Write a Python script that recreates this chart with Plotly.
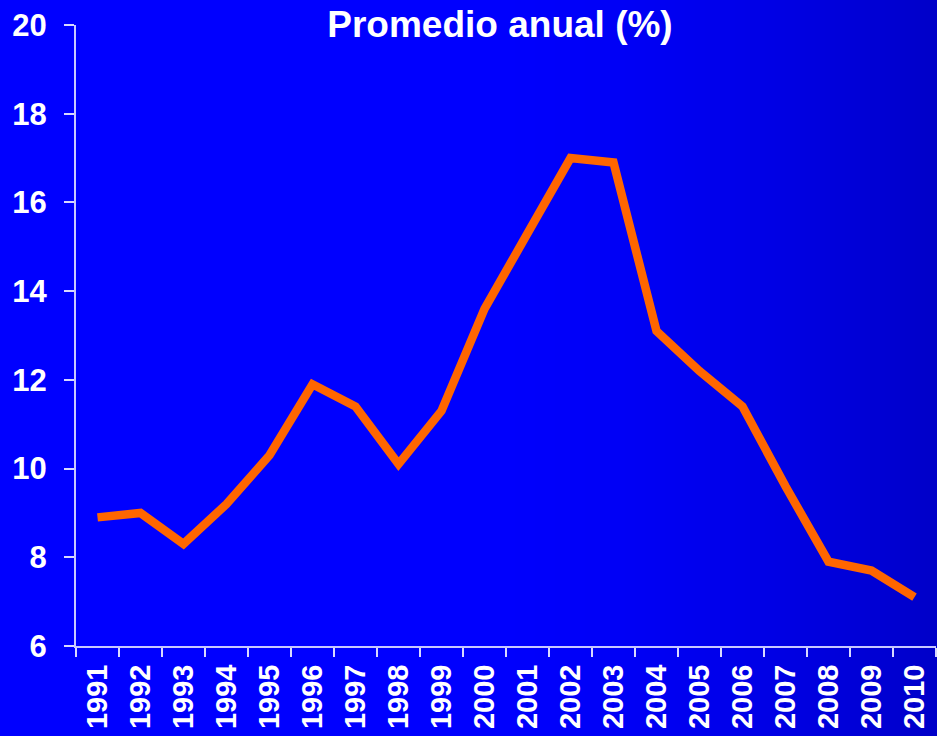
import plotly.graph_objects as go

years = ["1991", "1992", "1993", "1994", "1995", "1996", "1997", "1998", "1999", "2000",
         "2001", "2002", "2003", "2004", "2005", "2006", "2007", "2008", "2009", "2010"]
values = [8.9, 9.0, 8.3, 9.2, 10.3, 11.9, 11.4, 10.1, 11.3, 13.6,
          15.3, 17.0, 16.9, 13.1, 12.2, 11.4, 9.6, 7.9, 7.7, 7.1]
y_ticks = [6, 8, 10, 12, 14, 16, 18, 20]

W, H = 937, 736
ML, MR, MT, MB = 76, 1, 25, 90
PW = W - ML - MR
PH = H - MT - MB

FONT = "Liberation Sans, Arial, sans-serif"

# background gradient as thin vertical strips (paper coordinates)
shapes = []
step = 5
for px in range(0, W, step):
    t = max(0.0, (px + step / 2 - 400) / (W - 400))
    b = int(round(255 - 55 * t * t))
    shapes.append(dict(
        type="rect", xref="paper", yref="paper", layer="below",
        x0=(px - ML) / PW, x1=(px + step + 1 - ML) / PW,
        y0=-MB / PH - 0.01, y1=1 + MT / PH + 0.01,
        fillcolor=f"rgb(0,0,{b})", line=dict(width=0),
    ))

fig = go.Figure()
fig.add_trace(go.Scatter(
    x=years, y=values, mode="lines",
    line=dict(color="#FF6600", width=8.5),
    hoverinfo="x+y", showlegend=False,
))

fig.update_layout(
    width=W, height=H,
    margin=dict(l=ML, r=MR, t=MT, b=MB, autoexpand=False),
    paper_bgcolor="#0000FF",
    plot_bgcolor="rgba(0,0,0,0)",
    shapes=shapes,
    title=dict(
        text="<b>Promedio anual (%)</b>",
        font=dict(family=FONT, size=37, color="white"),
        x=500 / W, xanchor="center", xref="container",
        y=1 - 24 / H, yanchor="middle", yref="container",
    ),
    xaxis=dict(
        type="category", tickson="boundaries", range=[-0.5, len(years) - 0.5],
        showgrid=False, zeroline=False,
        showline=True, linecolor="#C8C8FF", linewidth=2,
        ticks="outside", ticklen=9, tickcolor="#D8D8FF", tickwidth=2,
        tickangle=-90, ticklabelstandoff=5,
        tickfont=dict(family=FONT, size=29, color="white", weight="bold"),
        automargin=False,
    ),
    yaxis=dict(
        range=[6, 20], tickvals=y_ticks, ticktext=[str(v) for v in y_ticks],
        showgrid=False, zeroline=False,
        showline=True, linecolor="#C8C8FF", linewidth=2,
        ticks="outside", ticklen=10, tickcolor="#D8D8FF", tickwidth=2,
        ticklabelstandoff=11,
        tickfont=dict(family=FONT, size=31, color="white", weight="bold"),
        automargin=False,
    ),
)

fig.write_html("out.html", config={"displayModeBar": False},
               post_script="document.body.style.margin='0';")
